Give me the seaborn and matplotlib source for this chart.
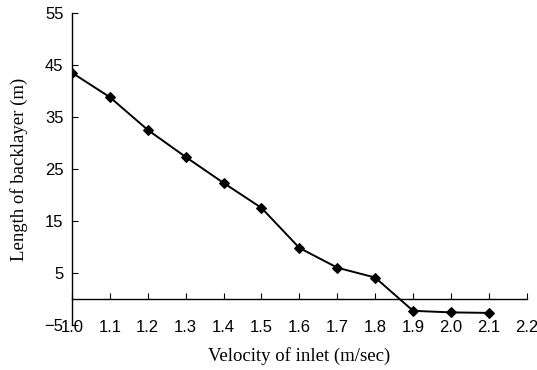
import pandas as pd
import numpy as np
import matplotlib.pyplot as plt
import seaborn as sns

# values
velocity = [1.0, 1.1, 1.2, 1.3, 1.4, 1.5, 1.6, 1.7, 1.8, 1.9, 2.0, 2.1]
backlayer = [43.5, 38.8, 32.5, 27.3, 22.3, 17.5, 9.8, 6.0, 4.1, -2.3, -2.6, -2.7]
x_ticks = [1.0, 1.1, 1.2, 1.3, 1.4, 1.5, 1.6, 1.7, 1.8, 1.9, 2.0, 2.1, 2.2]
y_ticks = [-5, 5, 15, 25, 35, 45, 55]

df = pd.DataFrame({"velocity": velocity, "backlayer": backlayer})

sns.set_theme(style="white")
plt.rcParams["font.family"] = ["Liberation Sans", "DejaVu Sans"]

fig = plt.figure(figsize=(5.37, 3.70), dpi=100)
ax = fig.add_axes([0.134, 0.122, 0.847, 0.843])

sns.lineplot(data=df, x="velocity", y="backlayer", ax=ax, color="black",
             linewidth=1.4, marker="D", markersize=5, markeredgecolor="black")

ax.set_xlim(1.0, 2.2)
ax.set_ylim(-5, 55)
ax.set_xticks(x_ticks)
ax.set_xticklabels([f"{v:.1f}" for v in x_ticks])
ax.set_yticks(y_ticks)
ax.set_yticklabels([str(v).replace("-", "\u2212") for v in y_ticks])

for s in ["top", "right"]:
    ax.spines[s].set_visible(False)
ax.spines["bottom"].set_position(("data", 0))
ax.spines["left"].set_position(("data", 1.0))
for s in ["bottom", "left"]:
    ax.spines[s].set_color("black")
    ax.spines[s].set_linewidth(1.0)

ax.tick_params(axis="x", direction="in", length=4, width=0.8, pad=15,
               labelsize=12, colors="black")
ax.tick_params(axis="y", direction="in", length=4, width=0.8, pad=6,
               labelsize=12, colors="black")
ax.tick_params(bottom=True, left=True)

ax.set_xlabel("Velocity of inlet (m/sec)", fontsize=13.5, family="Liberation Serif",
              labelpad=9, color="black")
ax.set_ylabel("Length of backlayer (m)", fontsize=13.5, family="Liberation Serif",
              labelpad=12, color="black")

fig.savefig("out.png", dpi=100)
